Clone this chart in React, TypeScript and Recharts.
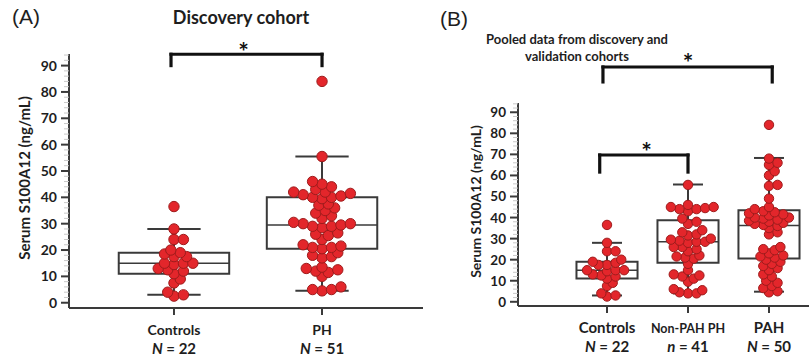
import {
  ReferenceArea,
  ReferenceDot,
  ReferenceLine,
  Scatter,
  ScatterChart,
  XAxis,
  YAxis,
  Label,
} from "recharts";

const FONT = "Lato, 'Noto Sans', sans-serif";
const INK = "#1e1e1e";
const BOX = "#3a3a3a";
const DOT = "#e3262b";
const DOT_EDGE = "#9e1c1c";

// ---- panel A: discovery cohort ----
const CATS_A = ["Controls", "PH"];
const N_LETTER_A = ["N", "N"];
const N_A = [22, 51];
const CONTROLS = [36.5, 28, 24, 24, 20, 19, 18.5, 17.5, 17.5, 15, 15, 15, 14.5, 13, 12.5, 12, 11, 9, 7.5, 4, 3, 2.5];
const PH = [
  84, 55.5, 46, 45, 44, 43, 42, 42, 41.5, 41, 40.5, 40, 40, 39.5, 37.5, 37, 36, 35, 34, 33, 32, 30.5, 30, 30, 29.5,
  29, 29, 28.5, 26.5, 26, 25.5, 24, 22, 21.5, 21, 21, 20.5, 19, 18, 17.5, 17, 13.5, 13, 12.5, 12, 11.5, 10, 6, 5, 5,
  4.5,
];
const LO_A = [3, 4.5];
const Q1_A = [11, 20.5];
const MED_A = [15, 29.5];
const Q3_A = [19, 40];
const HI_A = [28, 55.5];

// ---- panel B: pooled cohorts ----
const CATS_B = ["Controls", "Non-PAH PH", "PAH"];
const N_LETTER_B = ["N", "n", "N"];
const N_B = [22, 41, 50];
const NON_PAH = [
  55.5, 46, 45, 45, 44.5, 44, 44, 43, 39.5, 38, 37, 34, 33, 32, 31.5, 30, 29.5, 29, 28.5, 28.5, 28, 26, 26, 25, 24, 22,
  21.5, 21, 20.5, 18, 15, 13, 12.5, 12, 11, 9.5, 6, 5.5, 4.5, 4, 4,
];
const PAH = [
  84, 68, 66, 65, 62, 60, 55.5, 55, 49, 45, 44, 43, 42.5, 42, 41.5, 41, 40, 40, 39.5, 39, 38.5, 38, 37.5, 37, 36.5, 36,
  35, 33, 32, 26, 25, 24.5, 23, 22, 21.5, 21, 20, 19, 18, 17, 16, 15, 13, 12, 10, 9, 7.5, 6.5, 5, 4.5,
];
const LO_B = [3, 4, 4.8];
const Q1_B = [11, 18.5, 20.5];
const MED_B = [15, 28.5, 36.2];
const Q3_B = [19, 38.7, 43.5];
const HI_B = [28, 55.7, 68.3];

const Y_DOMAIN: [number, number] = [-2, 94.4];
const Y_TICKS = Array.from({ length: 48 }, (_, i) => i * 2);

// simple beeswarm: offsets so the dots do not pile up on one another
function swarm(groups: number[][], pxPerVal: number, pxPerCat: number, d: number) {
  const out: { x: number; y: number }[] = [];
  groups.forEach((vals, gi) => {
    const placed: { dx: number; dy: number }[] = [];
    [...vals]
      .sort((a, b) => a - b)
      .forEach((v) => {
        const py = v * pxPerVal;
        for (let k = 0; k < 120; k++) {
          const step = Math.ceil(k / 2) * d * 0.3 * (k % 2 ? 1 : -1);
          if (placed.every((p) => Math.hypot(p.dx - step, p.dy - py) >= d * 0.66)) {
            placed.push({ dx: step, dy: py });
            out.push({ x: gi + step / pxPerCat, y: v });
            break;
          }
        }
      });
  });
  return out;
}

const POINTS_A = swarm([CONTROLS, PH], 2.638, 148, 10.5);
const POINTS_B = swarm([CONTROLS, NON_PAH, PAH], 2.104, 81, 9.5);

function boxes(lo: number[], q1: number[], med: number[], q3: number[], hi: number[], half: number, cap: number) {
  const els: any[] = [];
  q1.forEach((_, i) => {
    const seg = (k: string, x1: number, y1: number, x2: number, y2: number, w = 2) =>
      els.push(
        <ReferenceLine
          key={`${k}${i}`}
          segment={[
            { x: x1, y: y1 },
            { x: x2, y: y2 },
          ]}
          stroke={BOX}
          strokeWidth={w}
          ifOverflow="visible"
        />
      );
    seg("wu", i, q3[i], i, hi[i]);
    seg("wl", i, lo[i], i, q1[i]);
    seg("cu", i - cap, hi[i], i + cap, hi[i]);
    seg("cl", i - cap, lo[i], i + cap, lo[i]);
    els.push(
      <ReferenceArea
        key={`b${i}`}
        x1={i - half}
        x2={i + half}
        y1={q1[i]}
        y2={q3[i]}
        fill="none"
        fillOpacity={0}
        stroke={BOX}
        strokeWidth={2}
        strokeOpacity={1}
        ifOverflow="visible"
      />
    );
    seg("m", i - half, med[i], i + half, med[i], 1.6);
  });
  return els;
}

function bracket(key: string, x1: number, x2: number, top: number, foot: number, sx: number, sy: number) {
  const line = (k: string, a: number, b: number, c: number, d: number) => (
    <ReferenceLine
      key={key + k}
      segment={[
        { x: a, y: b },
        { x: c, y: d },
      ]}
      stroke="#111"
      strokeWidth={3.2}
      strokeLinecap="square"
      ifOverflow="visible"
    />
  );
  return [
    line("h", x1, top, x2, top),
    line("l", x1, top, x1, foot),
    line("r", x2, top, x2, foot),
    <ReferenceDot
      key={key + "s"}
      x={sx}
      y={sy}
      r={1}
      ifOverflow="visible"
      shape={(p: any) => (
        <text x={p.cx} y={p.cy + 14} textAnchor="middle" fontFamily={FONT} fontWeight={700} fontSize={25} fill="#111">
          *
        </text>
      )}
    />,
  ];
}

function YTick({ x, y, payload, fs }: any) {
  const v = payload.value;
  const major = v % 10 === 0 && v <= 90;
  const ax = x + 10;
  return (
    <g>
      <line
        x1={major ? ax - 8 : ax - 5}
        x2={ax}
        y1={y}
        y2={y}
        stroke={major ? BOX : "#c8c8c8"}
        strokeWidth={major ? 2 : 1}
      />
      {major && (
        <text x={x - 2} y={y} dy={5} textAnchor="end" fontFamily={FONT} fontWeight={700} fontSize={fs} fill={INK}>
          {v}
        </text>
      )}
    </g>
  );
}

function XTick({ x, y, payload, names, letters, counts, sizes }: any) {
  const i = Math.round(payload.value);
  return (
    <g fontFamily={FONT} fontWeight={700} fill={INK}>
      <text x={x} y={y + 18} textAnchor="middle" fontSize={sizes[i]}>
        {names[i]}
      </text>
      <text x={x} y={y + 37} textAnchor="middle" fontSize={15}>
        <tspan fontStyle="italic">{letters[i]}</tspan> = {counts[i]}
      </text>
    </g>
  );
}

function YLabel({ viewBox, cx, fs }: any) {
  return (
    <text
      transform={`translate(${viewBox.x + cx},${viewBox.y + viewBox.height / 2 - 3}) rotate(-90)`}
      textAnchor="middle"
      dominantBaseline="central"
      fontFamily={FONT}
      fontWeight={700}
      fontSize={fs}
      fill={INK}
    >
      Serum S100A12 (ng/mL)
    </text>
  );
}

const dotShape = (r: number) => (p: any) =>
  <circle cx={p.cx} cy={p.cy} r={r} fill={DOT} stroke={DOT_EDGE} strokeWidth={1} />;

export default function App() {
  return (
    <div style={{ position: "absolute", left: 0, top: 0, width: 809, height: 360, background: "#fff", overflow: "hidden" }}>
      <div style={{ position: "absolute", left: 12, top: 5, fontFamily: "'Liberation Sans', Arial", fontSize: 21, color: INK }}>
        (A)
      </div>
      <div style={{ position: "absolute", left: 150, top: 6, width: 182, textAlign: "center", fontFamily: FONT, fontWeight: 700, fontSize: 18, color: INK }}>
        Discovery cohort
      </div>
      <div style={{ position: "absolute", left: 440, top: 7, fontFamily: "'Liberation Sans', Arial", fontSize: 21, color: INK }}>
        (B)
      </div>
      <div style={{ position: "absolute", left: 467, top: 31, width: 220, textAlign: "center", fontFamily: FONT, fontWeight: 700, fontSize: 13, lineHeight: "17px", color: INK }}>
        Pooled data from discovery and
        <br />
        validation cohorts
      </div>

      <div style={{ position: "absolute", left: 0, top: 0 }}>
        <ScatterChart width={423} height={360} margin={{ top: 54, right: 0, bottom: 2, left: 0 }}>
          <XAxis
            type="number"
            dataKey="x"
            domain={[-0.709, 1.682]}
            ticks={[0, 1]}
            allowDataOverflow
            height={50}
            tickSize={7}
            tickMargin={2}
            axisLine={{ stroke: BOX, strokeWidth: 2 }}
            tickLine={{ stroke: BOX, strokeWidth: 2 }}
            tick={(p: any) => <XTick {...p} names={CATS_A} letters={N_LETTER_A} counts={N_A} sizes={[14, 14]} />}
          />
          <YAxis
            type="number"
            dataKey="y"
            domain={Y_DOMAIN}
            ticks={Y_TICKS}
            interval={0}
            allowDataOverflow
            width={69}
            tickSize={7}
            tickMargin={3}
            tickLine={false}
            axisLine={{ stroke: BOX, strokeWidth: 2 }}
            tick={(p: any) => <YTick {...p} fs={14} />}
          >
            <Label content={(p: any) => <YLabel {...p} cx={24} fs={15} />} />
          </YAxis>
          {boxes(LO_A, Q1_A, MED_A, Q3_A, HI_A, 0.373, 0.18)}
          {bracket("a", -0.02, 1, 94.3, 90, 0.47, 97)}
          <Scatter data={POINTS_A} isAnimationActive={false} shape={dotShape(5.2)} />
        </ScatterChart>
      </div>

      <div style={{ position: "absolute", left: 430, top: 0 }}>
        <ScatterChart width={379} height={360} margin={{ top: 103, right: 0, bottom: 4, left: 0 }}>
          <XAxis
            type="number"
            dataKey="x"
            domain={[-1.099, 2.494]}
            ticks={[0, 1, 2]}
            allowDataOverflow
            height={50}
            tickSize={7}
            tickMargin={2}
            axisLine={{ stroke: BOX, strokeWidth: 2 }}
            tickLine={{ stroke: BOX, strokeWidth: 2 }}
            tick={(p: any) => <XTick {...p} names={CATS_B} letters={N_LETTER_B} counts={N_B} sizes={[15, 12.5, 15]} />}
          />
          <YAxis
            type="number"
            dataKey="y"
            domain={Y_DOMAIN}
            ticks={Y_TICKS}
            interval={0}
            allowDataOverflow
            width={88}
            tickSize={7}
            tickMargin={3}
            tickLine={false}
            axisLine={{ stroke: BOX, strokeWidth: 2 }}
            tick={(p: any) => <YTick {...p} fs={13.5} />}
          >
            <Label content={(p: any) => <YLabel {...p} cx={45} fs={14} />} />
          </YAxis>
          {boxes(LO_B, Q1_B, MED_B, Q3_B, HI_B, 0.377, 0.185)}
          {bracket("b1", -0.05, 2.04, 111.5, 104.4, 1.0, 116)}
          {bracket("b2", -0.09, 1.0, 69.7, 61.6, 0.49, 73.5)}
          <Scatter data={POINTS_B} isAnimationActive={false} shape={dotShape(4.7)} />
        </ScatterChart>
      </div>
    </div>
  );
}
